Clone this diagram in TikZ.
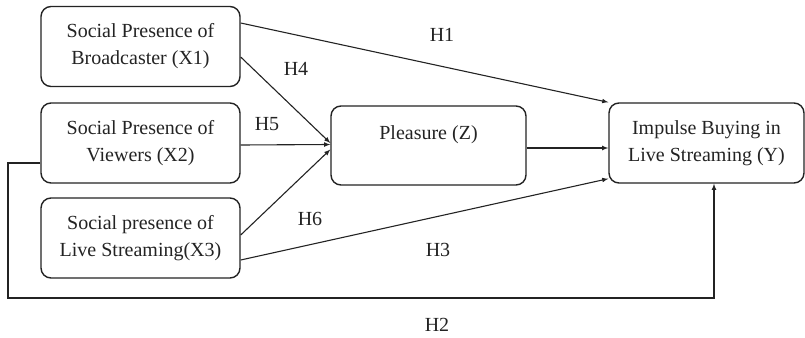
\documentclass[tikz,border=0pt]{standalone}
\usepackage{fontspec}
\setmainfont{Liberation Serif}
\usepackage{tikz}
\usetikzlibrary{shapes,arrows,positioning,calc}
\definecolor{lninkgray}{RGB}{35,35,35}

\begin{document}
\begin{tikzpicture}[x=1pt, y=-1pt,
  every node/.style={font=\fontsize{20}{27}\selectfont, text=lninkgray},
  varbox/.style={draw=lninkgray, line width=1.4pt, rectangle, rounded corners=10pt, align=center, minimum width=199pt, minimum height=80pt},
  link/.style={draw=lninkgray, line width=1.1pt, -latex}]
  \useasboundingbox (0,0) rectangle (805,337);
  \node[varbox] (x1) at (140.5,46.5) {Social Presence of\\Broadcaster (X1)};
  \node[varbox] (x2) at (140.5,143) {Social Presence of\\Viewers (X2)};
  \node[varbox] (x3) at (140.5,238) {Social presence of\\Live Streaming(X3)};
  \node[varbox, minimum width=195pt, minimum height=79pt] (z) at (428.5,145.5) {Pleasure (Z)\\[-2pt]};
  \node[varbox, minimum width=195pt] (y) at (706.5,143) {Impulse Buying in\\Live Streaming (Y)};

  \coordinate (h2bend) at (8,298);

  \draw[link] ([yshift=23.5pt]x1.east) -- (y.north west);
  \draw[link] ([yshift=-10.5pt]x1.east) -- ([yshift=2.5pt]z.west);
  \draw[link] ([yshift=-2pt]x2.east) -- ([yshift=1pt]z.west);
  \draw[link] ([yshift=3pt]x3.east) -- ([yshift=-4pt]z.west);
  \draw[link] ([yshift=-2.5pt]z.east) -- ([yshift=-5pt]y.west);
  \draw[link] ([yshift=-22pt]x3.east) -- ([yshift=5pt]y.south west);
  \draw[link] ([yshift=-20pt]x2.west) -| (h2bend) -| ([xshift=7.5pt]y.south);

  \node (h1) at (442,35) {H1};
  \node (h4) at (296,69) {H4};
  \node (h5) at (267,124) {H5};
  \node (h6) at (310,219) {H6};
  \node (h3) at (438,250) {H3};
  \node (h2) at (437,325) {H2};
\end{tikzpicture}
\end{document}
